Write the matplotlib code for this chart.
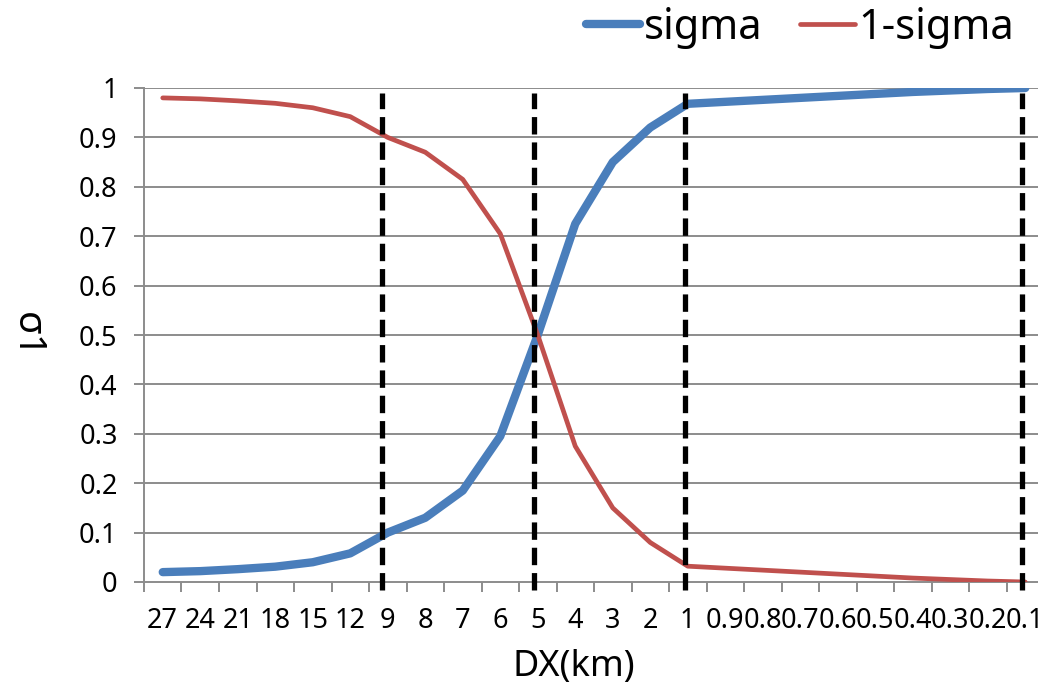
import matplotlib
matplotlib.use("Agg")
import matplotlib.pyplot as plt
import numpy as np

plt.rcParams['font.family'] = ['Noto Sans', 'DejaVu Sans']

# categories along DX(km)
dx_labels = ["27", "24", "21", "18", "15", "12", "9", "8", "7", "6", "5", "4",
             "3", "2", "1", "0.9", "0.8", "0.7", "0.6", "0.5", "0.4", "0.3", "0.2", "0.1"]
sigma = [0.02, 0.022, 0.026, 0.031, 0.04, 0.058, 0.1, 0.13, 0.185, 0.295, 0.5, 0.725,
         0.85, 0.92, 0.968, 0.972, 0.976, 0.98, 0.984, 0.988, 0.992, 0.995, 0.998, 1.0]
one_minus = [0.98, 0.978, 0.974, 0.969, 0.96, 0.942, 0.9, 0.87, 0.815, 0.705, 0.5, 0.275,
             0.15, 0.08, 0.032, 0.028, 0.024, 0.02, 0.016, 0.012, 0.008, 0.005, 0.002, 0.0]
# dashed marker lines (category index, roughly where they were drawn)
marker_pos = [5.85, 9.9, 13.93, 22.92]
y_ticks = [0, 0.1, 0.2, 0.3, 0.4, 0.5, 0.6, 0.7, 0.8, 0.9, 1]
y_tick_labels = ["0", "0.1", "0.2", "0.3", "0.4", "0.5", "0.6", "0.7", "0.8", "0.9", "1"]

W, H = 1038, 689
fig = plt.figure(figsize=(W / 100, H / 100), dpi=100)
ax = fig.add_axes([144 / W, 1 - 582 / H, 900 / W, (582 - 88) / H])

x = np.arange(len(dx_labels))
grid_c = "#8c8c8c"

for yv in y_ticks[1:]:
    ax.axhline(yv, color=grid_c, lw=1.4, zorder=1)

ax.plot(x, sigma, color="#4a7ebb", lw=6.0, solid_capstyle="round",
        solid_joinstyle="round", label="sigma", zorder=3)
ax.plot(x, one_minus, color="#c0504d", lw=3.4, solid_capstyle="round",
        solid_joinstyle="round", label="1-sigma", zorder=4)

for p in marker_pos:
    ax.plot([p, p], [-0.016, 0.99], color="black", lw=3.8,
            dashes=(3.3, 1.5), zorder=5, clip_on=False)

ax.set_xlim(-0.5, len(dx_labels) - 0.5)
ax.set_ylim(0, 1)

ax.set_xticks(x)
ax.set_xticklabels(dx_labels, fontsize=19.5)
ax.set_xticks(np.arange(len(dx_labels) + 1) - 0.5, minor=True)
ax.tick_params(axis="x", which="major", length=0, pad=18)
ax.tick_params(axis="x", which="minor", length=7, width=1.4, color=grid_c, direction="out")

ax.set_yticks(y_ticks)
ax.set_yticklabels(y_tick_labels, fontsize=19.5)
ax.tick_params(axis="y", length=7, width=1.4, color=grid_c, direction="out", pad=12)

for s in ["top", "right"]:
    ax.spines[s].set_visible(False)
for s in ["left", "bottom"]:
    ax.spines[s].set_color(grid_c)
    ax.spines[s].set_linewidth(1.4)

ax.set_xlabel("DX(km)", fontsize=26, va="center")
ax.xaxis.set_label_coords((574 - 144) / 900, -(667 - 582) / (582 - 88))
ax.set_ylabel("σ1", fontsize=28, rotation=270, va="center")
ax.yaxis.set_label_coords(-(144 - 27) / 900, 0.5)

leg = ax.legend(loc="center left", bbox_to_anchor=(586 / W, 1 - 28 / H),
                bbox_transform=fig.transFigure, ncol=2, frameon=False,
                fontsize=30, handlelength=1.3, handletextpad=0.1,
                columnspacing=0.9, borderaxespad=0, borderpad=0)

fig.savefig("out.png", dpi=100)
